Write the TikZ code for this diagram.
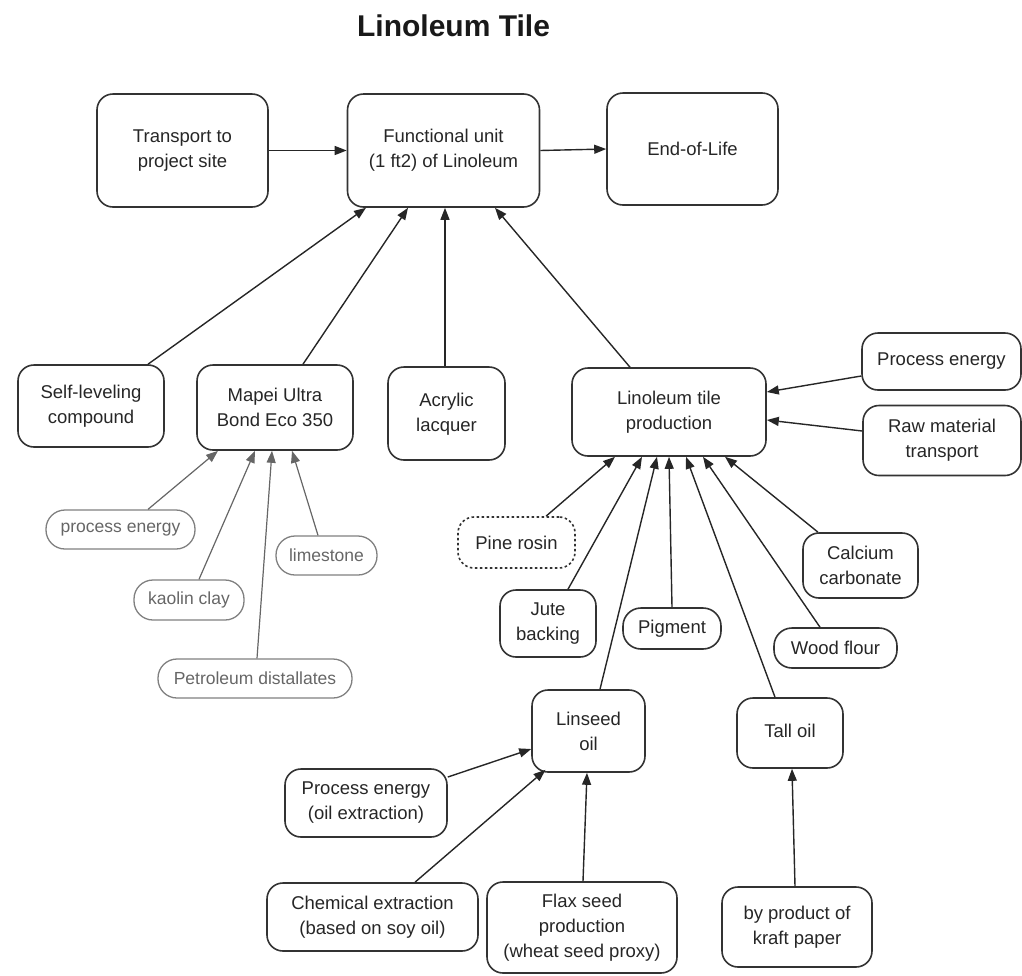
\documentclass[tikz,border=0pt]{standalone}
\usepackage{fontspec}
\setmainfont{Liberation Sans}
\usetikzlibrary{arrows.meta}
\begin{document}
\begin{tikzpicture}[x=1pt,y=-1pt,
  box/.style={draw=black!80, line width=1.6pt, rounded corners=16pt, align=center, inner sep=0pt,
              font=\fontsize{18.5}{25}\selectfont, text=black!85},
  gbox/.style={draw=black!50, line width=1.3pt, rounded corners=19pt, align=center, inner sep=0pt,
              font=\fontsize{17.5}{22}\selectfont, text=black!60},
  dbox/.style={box, dash pattern=on 2.5pt off 2.5pt},
  arr/.style={-{Triangle[length=12pt,width=9pt]}, line width=1.4pt, draw=black!85},
  garr/.style={-{Triangle[length=12pt,width=9pt]}, line width=1.2pt, draw=black!60},
  titlestyle/.style={font=\fontsize{30}{34}\selectfont\bfseries, text=black!90, inner sep=0pt}
]
\useasboundingbox (0,0) rectangle (1022,975);

\node[titlestyle] (title) at (453.5,26) {Linoleum Tile};

% top row
\node[box, minimum width=171pt, minimum height=113pt] (tr)  at (182.5,150.5) {Transport to\\project site};
\node[box, minimum width=192pt, minimum height=113pt] (fu)  at (443.5,150.5) {Functional unit\\(1 ft2) of Linoleum};
\node[box, minimum width=171pt, minimum height=112pt] (eol) at (692.5,149)   {End-of-Life};

% middle row
\node[box, minimum width=146pt, minimum height=82pt] (sl) at (91,406)    {Self-leveling\\compound};
\node[box, minimum width=156pt, minimum height=85pt] (mp) at (275,407.5) {Mapei Ultra\\Bond Eco 350};
\node[box, minimum width=117pt, minimum height=93pt] (ac) at (446.5,413.5)
  {\raisebox{7pt}{\begin{tabular}{@{}c@{}}Acrylic\\lacquer\end{tabular}}};
\node[box, minimum width=194pt, minimum height=88pt] (lp) at (669,412)   {Linoleum tile\\production};
\node[box, minimum width=159pt, minimum height=57pt] (pe) at (941.5,361.5) {Process energy};
\node[box, minimum width=158pt, minimum height=70pt] (rm) at (942,440.5)  {Raw material\\transport};

% grey inputs of Mapei
\node[gbox, minimum width=149pt, minimum height=39pt] (gpe) at (120.5,529.5) {process energy};
\node[gbox, minimum width=101pt, minimum height=39pt] (ls)  at (326.5,555.5) {limestone};
\node[gbox, minimum width=110pt, minimum height=40pt] (kc)  at (189,600)     {kaolin clay};
\node[gbox, minimum width=194pt, minimum height=39pt] (pd)  at (255,678.5)   {Petroleum distallates};

% inputs of linoleum tile production
\node[dbox, minimum width=117pt, minimum height=51pt] (pr) at (516.5,542.5) {Pine rosin};
\node[box,  minimum width=96pt,  minimum height=67pt] (jb) at (548,623.5)   {Jute\\backing};
\node[box,  minimum width=98pt,  minimum height=41pt, rounded corners=18pt] (pg) at (672,628.5) {Pigment};
\node[box,  minimum width=115pt, minimum height=65pt] (cc) at (860.5,565.5) {Calcium\\carbonate};
\node[box,  minimum width=123pt, minimum height=40pt, rounded corners=18pt] (wf) at (835.5,648) {Wood flour};
\node[box,  minimum width=113pt, minimum height=82pt] (lo) at (588.5,731)   {Linseed\\oil};
\node[box,  minimum width=106pt, minimum height=70pt] (to) at (790,733)     {\raisebox{4pt}{Tall oil}};

% bottom row
\node[box, minimum width=162pt, minimum height=68pt] (pe3) at (366,803)   {Process energy\\(oil extraction)};
\node[box, minimum width=211pt, minimum height=68pt] (ce)  at (372.5,917) {Chemical extraction\\(based on soy oil)};
\node[box, minimum width=190pt, minimum height=91pt] (fs)  at (582,927.5) {Flax seed\\production\\(wheat seed proxy)};
\node[box, minimum width=150pt, minimum height=80pt] (kp)  at (797,927)   {by product of\\kraft paper};

% top row connectors
\draw[arr] (tr.east) -- (fu.west);
\draw[arr] (fu.east) -- (eol.west);

% into functional unit
\draw[arr] ([xshift=57pt]sl.north) -- ([xshift=-77.5pt]fu.south);
\draw[arr] ([xshift=28pt]mp.north) -- ([xshift=-35.5pt]fu.south);
\draw[arr] ([xshift=-1.5pt]ac.north) -- ([xshift=1.5pt]fu.south);
\draw[arr] ([xshift=-39pt]lp.north) -- ([xshift=51.5pt]fu.south);

% into Mapei
\draw[garr] ([xshift=27.5pt]gpe.north) -- ([xshift=-57pt]mp.south);
\draw[garr] ([xshift=10pt]kc.north)    -- ([xshift=-20pt]mp.south);
\draw[garr] ([xshift=2pt]pd.north)     -- ([xshift=-3pt]mp.south);
\draw[garr] ([xshift=-8.5pt]ls.north)  -- ([xshift=17pt]mp.south);

% into linoleum tile production
\draw[arr] ([yshift=-14.5pt]pe.west) -- ([yshift=20pt]lp.east);
\draw[arr] ([yshift=9.5pt]rm.west)   -- ([yshift=-8pt]lp.east);
\draw[arr] ([xshift=29.5pt]pr.north) -- ([xshift=-54pt]lp.south);
\draw[arr] ([xshift=20pt]jb.north)   -- ([xshift=-27pt]lp.south);
\draw[arr] ([xshift=11.5pt]lo.north) -- ([xshift=-12pt]lp.south);
\draw[arr] (pg.north)                -- (lp.south);
\draw[arr] ([xshift=-15pt]to.north)  -- ([xshift=17pt]lp.south);
\draw[arr] ([xshift=-15.5pt]wf.north) -- ([xshift=34pt]lp.south);
\draw[arr] ([xshift=-42.5pt]cc.north) -- ([xshift=56pt]lp.south);

% into linseed oil and tall oil
\draw[arr] ([yshift=26pt]pe3.east)   -- ([yshift=-18pt]lo.west);
\draw[arr] ([xshift=42.5pt]ce.north) -- ([xshift=-43pt,yshift=3pt]lo.south);
\draw[arr] ([xshift=1pt]fs.north)    -- ([xshift=-1.5pt]lo.south);
\draw[arr] ([xshift=-2pt]kp.north)   -- ([xshift=2pt]to.south);
\end{tikzpicture}
\end{document}
